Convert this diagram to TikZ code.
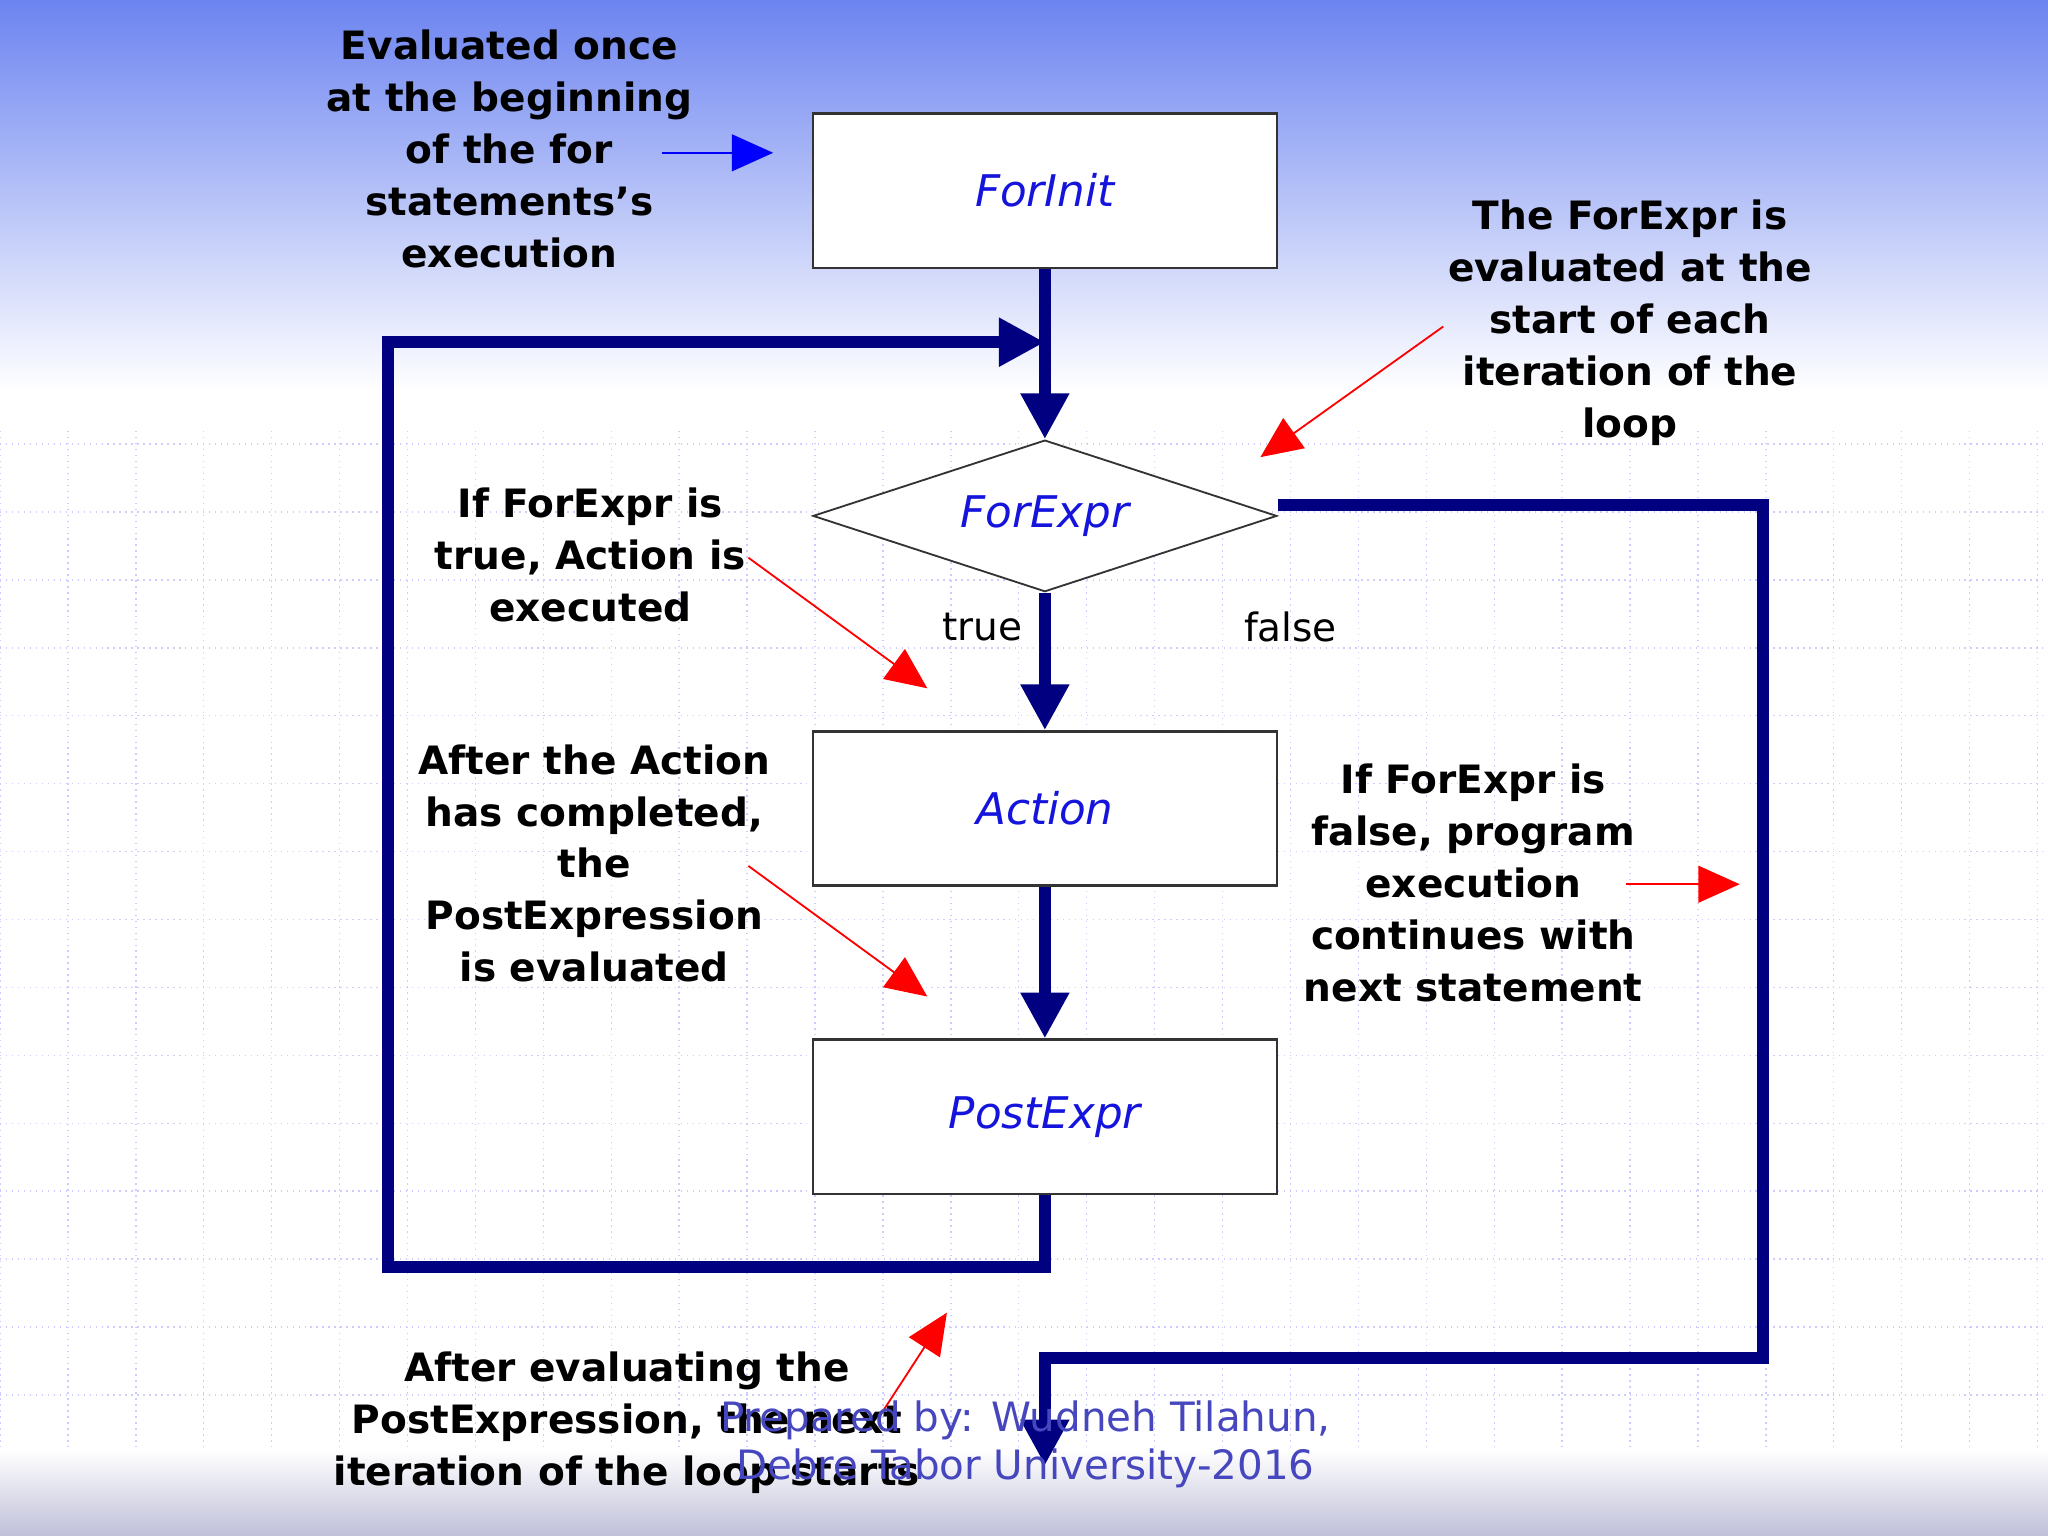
\documentclass[tikz,border=0pt]{standalone}
\usepackage{fontspec}
\setmainfont{DejaVu Sans}
\usetikzlibrary{arrows.meta,shapes.geometric}
\definecolor{navy}{RGB}{0,0,128}
\definecolor{topblue}{RGB}{108,132,240}
\definecolor{txtblue}{RGB}{20,20,220}
\definecolor{foot}{RGB}{70,70,190}
\tikzset{
 box/.style={draw=black!80,fill=white,line width=0.5pt,minimum width=3.55cm,minimum height=1.18cm,inner sep=0pt,font=\itshape\fontsize{9.5}{12}\selectfont,text=txtblue},
 flow/.style={draw=navy,line width=2.6pt},
 flowarr/.style={flow,-{Triangle[length=10pt,width=10pt]}},
 note/.style={align=center,font=\bfseries\fontsize{8.5}{11.3}\selectfont,inner sep=0pt},
 redarr/.style={draw=red,line width=0.4pt,-{Triangle[length=9pt,width=8pt]}},
 lab/.style={font=\fontsize{8.5}{11}\selectfont,inner sep=0pt}
}
\begin{document}
\begin{tikzpicture}[x=0.01cm,y=-0.01cm]
\useasboundingbox (0,0) rectangle (1568,1176);
\shade[top color=topblue,bottom color=white] (0,0) rectangle (1568,300);
\fill[white] (0,300) rectangle (1568,1176);
\foreach \x in {0,52,...,1568} \draw[blue!20,densely dotted,line width=0.3pt] (\x,330) -- (\x,1110);
\foreach \y in {340,392,...,1110} \draw[blue!20,densely dotted,line width=0.3pt] (0,\y) -- (1568,\y);
\shade[top color=white,bottom color=blue!25!gray!40] (0,1110) rectangle (1568,1176);

\node[box] (init) at (800,146) {ForInit};
\node[draw=black!80,fill=white,diamond,aspect=3.06,minimum width=3.55cm,minimum height=1.16cm,inner sep=0pt,font=\itshape\fontsize{9.5}{12}\selectfont,text=txtblue] (expr) at (800,395) {ForExpr};
\node[box] (act) at (800,619) {Action};
\node[box] (post) at (800,855) {PostExpr};

\coordinate (j) at (800,262);
\draw[flowarr] (init.south) -- (expr.north);
\draw[flowarr] (expr.south) -- (act.north);
\draw[flowarr] (act.south) -- (post.north);
\draw[flowarr] (post.south) -- (800,970) -- (297,970) -- (297,262) -- (j);
\coordinate (nx) at (800,1122);
\draw[flowarr] (expr.east) ++(0,-8) -- (1350,387) -- (1350,1040) -- (800,1040) -- (nx);

\node[lab] (t) at (752,480) {true};
\node[lab] (f) at (988,480) {false};

\node[note] (n1) at (390,114) {Evaluated once\\at the beginning\\of the for\\statements's\\execution};
\node[note] (n2) at (1248,247) {The ForExpr is\\evaluated at the\\start of each\\iteration of the\\loop};
\node[note] (n3) at (452,425) {If ForExpr is\\true, Action is\\executed};
\node[note] (n4) at (455,661) {After the Action\\has completed,\\the\\PostExpression\\is evaluated};
\node[note] (n5) at (1128,676) {If ForExpr is\\false, program\\execution\\continues with\\next statement};
\node[note] (n6) at (480,1089) {After evaluating the\\PostExpression, the next\\iteration of the loop starts};

\coordinate (b1) at (507,117); \coordinate (b2) at (592,117);
\draw[draw=blue,line width=0.4pt,-{Triangle[length=9pt,width=8pt]}] (b1) -- (b2);
\coordinate (r1) at (1105,250); \coordinate (r2) at (965,350);
\draw[redarr] (r1) -- (r2);
\coordinate (r3) at (573,427); \coordinate (r4) at (710,527);
\draw[redarr] (r3) -- (r4);
\coordinate (r5) at (573,663); \coordinate (r6) at (710,763);
\draw[redarr] (r5) -- (r6);
\coordinate (r7) at (673,1085); \coordinate (r8) at (725,1005);
\draw[redarr] (r7) -- (r8);
\coordinate (r9) at (1245,677); \coordinate (r10) at (1332,677);
\draw[redarr] (r9) -- (r10);

\node[align=center,text=foot,font=\fontsize{8.8}{10.5}\selectfont,inner sep=0pt] (ft) at (785,1106) {Prepared by: Wudneh Tilahun,\\Debre Tabor University-2016};
\end{tikzpicture}
\end{document}
